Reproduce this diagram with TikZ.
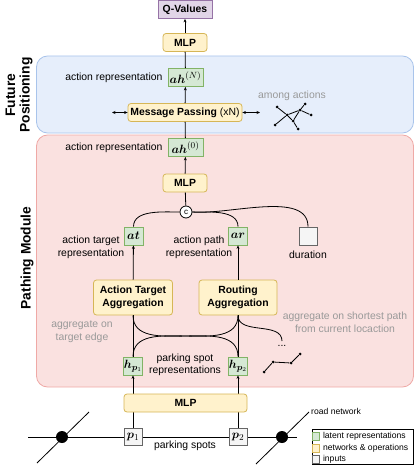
\documentclass[tikz,border=0pt]{standalone}
\usepackage{fontspec}
\setmainfont{Liberation Sans}
\usepackage{bm}
\usetikzlibrary{arrows.meta}
\definecolor{gfill}{HTML}{D5E8D4}\definecolor{gline}{HTML}{82B366}
\definecolor{yfill}{HTML}{FFF2CC}\definecolor{yline}{HTML}{D6B656}
\definecolor{ifill}{HTML}{F5F5F5}\definecolor{iline}{HTML}{666666}
\definecolor{pfill}{HTML}{E1D5E7}\definecolor{pline}{HTML}{9673A6}
\definecolor{bfill}{HTML}{E6EEFB}\definecolor{bline}{HTML}{A9C4EB}
\definecolor{rfill}{HTML}{FAE1E0}\definecolor{rline}{HTML}{EFA9A6}
\definecolor{txtgray}{HTML}{999999}
\tikzset{
  base/.style={font=\fontsize{10.4}{12.5}\selectfont},
  small/.style={font=\fontsize{8.6}{10}\selectfont},
  mathf/.style={font=\fontsize{12.5}{14}\selectfont},
  latent/.style={mathf,draw=gline,fill=gfill,line width=0.8pt,inner sep=0pt,minimum height=18pt},
  netw/.style={base,draw=yline,fill=yfill,line width=0.8pt,rounded corners=3pt,inner sep=0pt,minimum height=18pt,align=center},
  inp/.style={mathf,draw=iline,fill=ifill,line width=0.8pt,inner sep=0pt,minimum width=18pt,minimum height=17pt},
  region/.style={line width=0.8pt,rounded corners=11pt,inner sep=0pt},
  lbl/.style={base,align=center,inner sep=0pt},
  glbl/.style={base,align=center,inner sep=0pt,text=txtgray},
  side/.style={font=\fontsize{13.8}{14.5}\selectfont\bfseries,align=center,rotate=90,inner sep=0pt},
  conn/.style={line width=0.8pt},
  arr/.style={line width=0.8pt,-{Stealth[length=3.5pt,width=3pt]}},
  darr/.style={line width=0.8pt,{Stealth[length=3.5pt,width=3pt]}-{Stealth[length=3.5pt,width=3pt]}},
  dotn/.style={circle,fill=black,inner sep=0pt,minimum size=3pt},
  bigdot/.style={circle,fill=black,inner sep=0pt,minimum size=12pt},
  legsq/.style={line width=0.7pt,inner sep=0pt,minimum width=7pt,minimum height=8pt},
}
\begin{document}
\begin{tikzpicture}[x=1pt,y=-1pt]
\useasboundingbox (0,0) rectangle (415,468);
% regions
\node[region,draw=bline,fill=bfill,minimum width=377pt,minimum height=77pt] (fpreg) at (225,94.5) {};
\node[region,draw=rline,fill=rfill,minimum width=377pt,minimum height=252pt] (pmreg) at (225,261) {};
\node[side] (fplab) at (19,95) {Future\\Positioning};
\node[side] (pmlab) at (27,258) {Pathing Module};
% road network
\coordinate (rl) at (28,437); \coordinate (rr) at (297,437);
\coordinate (d1a) at (37,463); \coordinate (d1b) at (89,412);
\coordinate (d2a) at (256,464); \coordinate (d2b) at (309,412);
\draw[conn] (rl) -- (rr);
\draw[conn] (d1a) -- (d1b);
\draw[conn] (d2a) -- (d2b);
\node[bigdot] (j1) at (62,437) {};
\node[bigdot] (j2) at (282,437) {};
\node[small,anchor=west,inner sep=0pt] (roadlbl) at (311,411) {road network};
% nodes
\node[netw,draw=pline,fill=pfill,rounded corners=0pt,minimum width=54pt] (q) at (185,9.5) {\textbf{Q-Values}};
\node[netw,minimum width=44pt] (mlp3) at (185,42.5) {\textbf{MLP}};
\node[latent,minimum width=35pt] (ahN) at (185.5,77.5) {$\bm{ah}^{(N)}$};
\node[netw,minimum width=114pt] (mp) at (185,112.5) {\textbf{Message Passing} (xN)};
\node[latent,minimum width=35pt] (ah0) at (185.5,147.5) {$\bm{ah}^{(0)}$};
\node[netw,minimum width=44pt] (mlp2) at (185,183) {\textbf{MLP}};
\node[circle,draw=black,fill=white,line width=0.8pt,inner sep=0pt,minimum size=12pt,font=\fontsize{8}{9}\selectfont] (c) at (186,212) {c};
\node[latent,minimum width=19pt] (at) at (133.5,236) {$\bm{at}$};
\node[latent,minimum width=19pt] (ar) at (238,236) {$\bm{ar}$};
\node[inp,minimum width=18pt,minimum height=18pt] (dur) at (308,236) {};
\node[netw,minimum width=79pt,minimum height=35pt] (ata) at (133,297.5) {\textbf{Action Target}\\\textbf{Aggregation}};
\node[netw,minimum width=78pt,minimum height=35pt] (ra) at (238,297.5) {\textbf{Routing}\\\textbf{Aggregation}};
\node[latent,minimum width=19pt] (hp1) at (133,366) {$\bm{h}_{\bm{p}_1}$};
\node[latent,minimum width=19pt] (hp2) at (238,366) {$\bm{h}_{\bm{p}_2}$};
\node[inp] (p1) at (133,437) {$\bm{p}_1$};
\node[inp] (p2) at (238,437) {$\bm{p}_2$};
% connectors behind MLP1
\draw[arr] (p1) -- (hp1);
\draw[arr] (p2) -- (hp2);
\node[netw,minimum width=123pt] (mlp1) at (185.5,403) {\textbf{MLP}};
% labels
\node[lbl,anchor=east] (ahNl) at ([xshift=-5pt]ahN.west) {action representation};
\node[lbl,anchor=east] (ah0l) at ([xshift=-5pt]ah0.west) {action representation};
\node[glbl] (among) at (292,96) {among actions};
\node[lbl] (atl) at (91,247.5) {action target\\representation};
\node[lbl] (arl) at (199,247.5) {action path\\representation};
\node[lbl] (durl) at (308,255) {duration};
\node[glbl] (agt) at (82,331.5) {aggregate on\\target edge};
\node[glbl] (ags) at (345,322.5) {aggregate on shortest path\\from current locaction};
\node[lbl] (psr) at (185,365) {parking spot\\representations};
\node[lbl] (psl) at (185,446) {parking spots};
\node[lbl] (dots) at (282,346) {...};
% main connectors
\draw[arr] (mlp3) -- (q);
\draw[conn] (ahN) -- (mlp3);
\draw[arr] (mp) -- (ahN);
\draw[conn] (ah0) -- (mp);
\coordinate (mpl) at (112,112.5); \coordinate (mpr) at (260,112.5);
\draw[darr] (mpl) -- (mp.west);
\draw[darr] (mp.east) -- (mpr);
\draw[arr] (mlp2) -- (ah0);
\draw[conn] (c) -- (mlp2);
\draw[conn] (c.west) to[out=180,in=90,looseness=0.9] (at.north);
\draw[conn] (c.east) to[out=0,in=90,looseness=0.9] (ar.north);
\draw[conn] (c.east) to[out=-5,in=90,looseness=0.8] (dur.north);
\draw[arr] (ata) -- (at);
\draw[arr] (ra) -- (ar);
\draw[conn] (ata.south) -- (hp1.north);
\draw[conn] (ra.south) -- (hp2.north);
\draw[conn] (ata.south) to[out=-90,in=90,looseness=1] (hp2.north);
\draw[conn] (ra.south) to[out=-90,in=90,looseness=1] (hp1.north);
\coordinate (dotsc) at (282,341);
\draw[conn] (ra.south) to[out=-90,in=90,looseness=1] (dotsc);
% path icon
\node[dotn] (pa) at (264,372) {};
\node[dotn] (pb) at (273,362) {};
\node[dotn] (pc) at (291,363) {};
\node[dotn] (pd) at (300,354) {};
\draw[conn] (pa) -- (pb) -- (pc) -- (pd);
% graph icon
\node[dotn] (g1) at (277,107) {};
\node[dotn] (g2) at (287,115) {};
\node[dotn] (g3) at (300,110) {};
\node[dotn] (g4) at (305,104) {};
\node[dotn] (g5) at (311,115) {};
\node[dotn] (g6) at (293,121) {};
\node[dotn] (g7) at (298,129) {};
\node[dotn] (g8) at (275,125) {};
\draw[conn] (g1) -- (g2); \draw[conn] (g8) -- (g2); \draw[conn] (g2) -- (g3);
\draw[conn] (g3) -- (g4); \draw[conn] (g3) -- (g5); \draw[conn] (g2) -- (g6);
\draw[conn] (g3) -- (g6); \draw[conn] (g6) -- (g7);
% legend
\node[draw=black,line width=0.7pt,minimum width=101pt,minimum height=35pt,inner sep=0pt] (leg) at (362.5,446.5) {};
\node[legsq,draw=gline,fill=gfill] (lg1) at (316,436) {};
\node[legsq,draw=yline,fill=yfill] (lg2) at (316,448) {};
\node[legsq,draw=iline,fill=ifill] (lg3) at (316,459) {};
\node[small,anchor=west,inner sep=0pt] (lt1) at ([xshift=3pt]lg1.east) {latent representations};
\node[small,anchor=west,inner sep=0pt] (lt2) at ([xshift=3pt]lg2.east) {networks \& operations};
\node[small,anchor=west,inner sep=0pt] (lt3) at ([xshift=3pt]lg3.east) {inputs};
\end{tikzpicture}
\end{document}
